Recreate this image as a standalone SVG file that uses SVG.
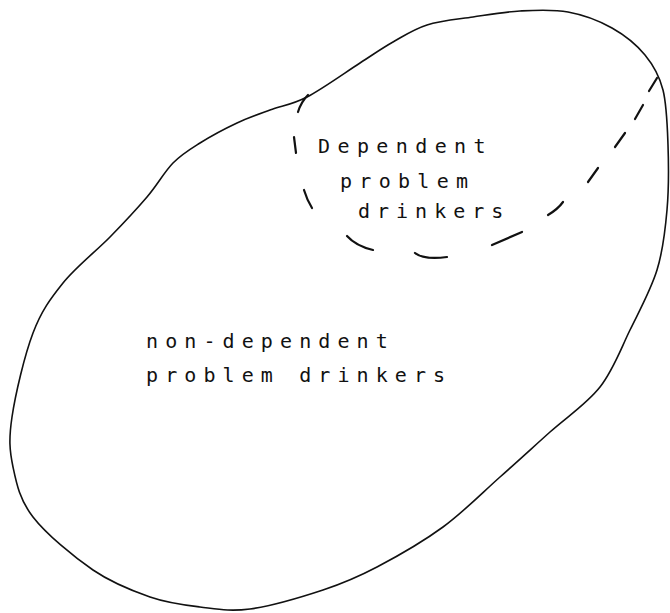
<svg xmlns="http://www.w3.org/2000/svg" width="670" height="613" viewBox="0 0 670 613">
  <style>
    .outline { fill: none; stroke: #111; stroke-width: 1.6; stroke-linejoin: round; }
    .dash { fill: none; stroke: #111; stroke-width: 2.2; stroke-linecap: round; }
    .lbl { font-family: "DejaVu Sans Mono", "Liberation Mono", monospace; font-size: 20px; fill: #111; }
  </style>
  <rect width="670" height="613" fill="#fff"/>
  <g id="nondependent">
    <path class="outline" d="M520,11 C535.8,10.2 552.7,9.2 568,12 C583.3,14.8 599.2,20.8 612,28 C624.8,35.2 636.5,44.7 645,55 C653.5,65.3 659.2,75 663,90 C666.8,105 667.3,125 668,145 C668.7,165 668.8,189.2 667,210 C665.2,230.8 663.2,250 657,270 C650.8,290 639.5,310.5 630,330 C620.5,349.5 613.3,370 600,387 C586.7,404 566.7,417 550,432 C533.3,447 517.8,461.2 500,477 C482.2,492.8 463.5,512 443,527 C422.5,542 397,556.5 377,567 C357,577.5 344.2,583 323,590 C301.8,597 270.5,606.2 250,609 C229.5,611.8 216.7,609 200,607 C183.3,605 167.8,603.2 150,597 C132.2,590.8 112.5,583.3 93,570 C73.5,556.7 46.3,534.2 33,517 C19.7,499.8 16.5,483.7 13,467 C9.5,450.3 8.7,439.3 12,417 C15.3,394.7 24.5,355.3 33,333 C41.5,310.7 50.2,299 63,283 C75.8,267 96,251.3 110,237 C124,222.7 136.5,209.3 147,197 C157.5,184.7 164.2,172 173,163 C181.8,154 189.3,149.7 200,143 C210.7,136.3 225.3,128.5 237,123 C248.7,117.5 258.3,114.3 270,110 C281.7,105.7 292,104.8 307,97 C322,89.2 345.7,72.2 360,63 C374.3,53.8 381.8,48.3 393,42 C404.2,35.7 413.7,29.2 427,25 C440.3,20.8 457.5,19.3 473,17 C488.5,14.7 504.5,11.8 520,11 Z"/>
    <text class="lbl" x="146" y="348" letter-spacing="7.1">non-dependent</text>
    <text class="lbl" x="146" y="382" letter-spacing="7.1">problem drinkers</text>
  </g>
  <g id="dependent">
    <g id="dependent-boundary">
      <path class="dash" d="M298,112 Q301,102 308,95"/>
      <path class="dash" d="M294,137 L296,153" stroke-width="2.8"/>
      <path class="dash" d="M304,190 Q307,200 312,208"/>
      <path class="dash" d="M347,236 Q356,246 373,250"/>
      <path class="dash" d="M415,253 Q424,260 447,257"/>
      <path class="dash" d="M492,245 L522,232"/>
      <path class="dash" d="M548,215 Q558,209 563,202"/>
      <path class="dash" d="M588,182 L598,168"/>
      <path class="dash" d="M615,147 L625,133"/>
      <path class="dash" d="M635,119 L643,105"/>
      <path class="dash" d="M649,91 L657,78"/>
    </g>
    <text class="lbl" x="318" y="153" letter-spacing="7.4">Dependent</text>
    <text class="lbl" x="340" y="188" letter-spacing="7.3">problem</text>
    <text class="lbl" x="358" y="218" letter-spacing="7">drinkers</text>
  </g>
</svg>
